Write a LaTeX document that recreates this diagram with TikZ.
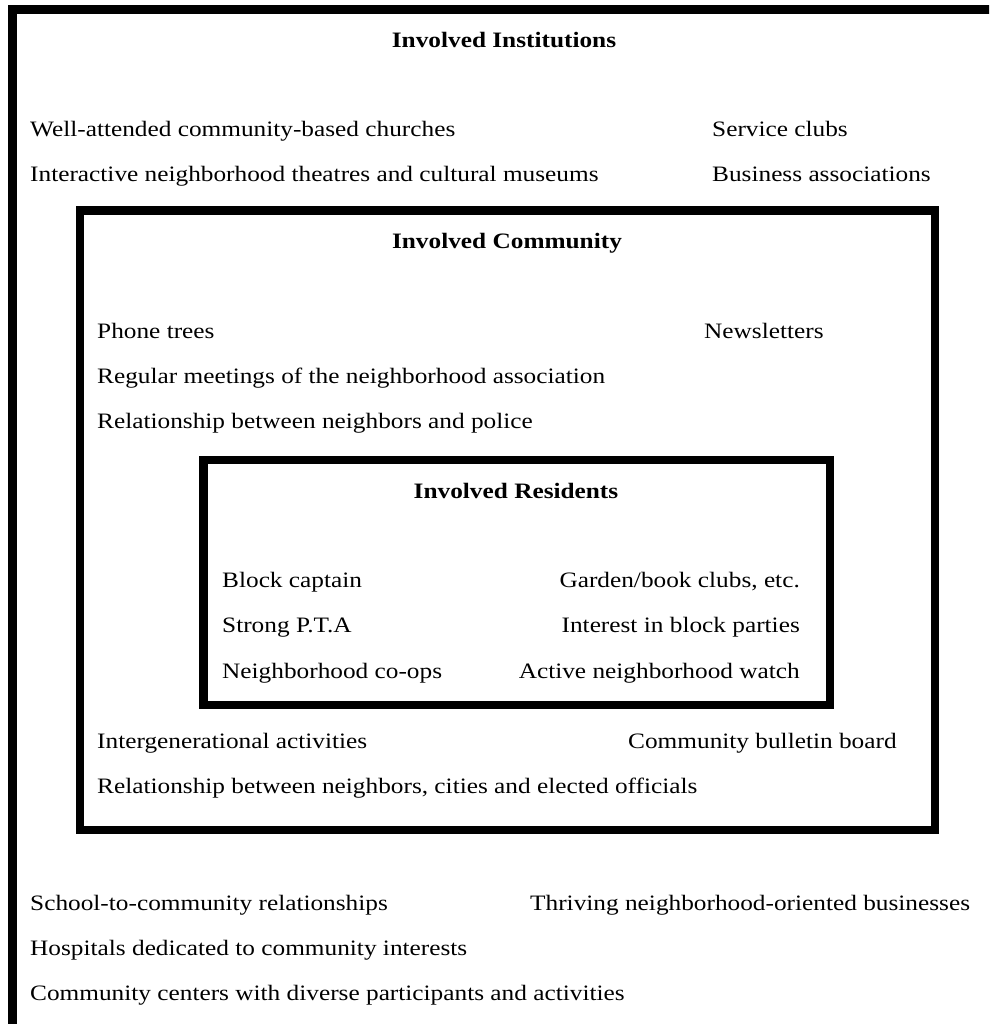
\documentclass[tikz,border=0pt]{standalone}
\usepackage{fontspec}
\setmainfont{Liberation Serif}[FakeStretch=1.15]
\begin{document}
\begin{tikzpicture}[x=1pt,y=-1pt,
  txt/.style={anchor=base west,inner sep=0pt,font=\fontsize{22}{26}\selectfont},
  txtr/.style={anchor=base east,inner sep=0pt,font=\fontsize{22}{26}\selectfont},
  ttl/.style={anchor=base,inner sep=0pt,font=\fontsize{22}{26}\selectfont\bfseries},
  boxline/.style={draw=black,line width=8.5pt}]
\useasboundingbox (0,0) rectangle (989,1024);
\clip (0,0) rectangle (989,1024);
\fill[white] (0,0) rectangle (989,1024);
% boxes
\draw[boxline,line width=9pt] (12.5,9.5) rectangle (1000,1035);
\draw[boxline] (80,210.5) rectangle (935,830);
\draw[boxline] (203.5,460) rectangle (830,705);
% outer texts
\node[ttl] (t1) at (504,48) {Involved Institutions};
\node[txt] (a1) at (30,137) {Well-attended community-based churches};
\node[txt] (a2) at (30,182) {Interactive neighborhood theatres and cultural museums};
\node[txt] (a3) at (712,137) {Service clubs};
\node[txt] (a4) at (712,182) {Business associations};
% middle texts
\node[ttl] (t2) at (507,248) {Involved Community};
\node[txt] (b1) at (97,338) {Phone trees};
\node[txt] (b2) at (704,338) {Newsletters};
\node[txt] (b3) at (97,383) {Regular meetings of the neighborhood association};
\node[txt] (b4) at (97,428) {Relationship between neighbors and police};
% inner texts
\node[ttl] (t3) at (516,498) {Involved Residents};
\node[txt] (c1) at (222,587) {Block captain};
\node[txt] (c2) at (222,632) {Strong P.T.A};
\node[txt] (c3) at (222,678) {Neighborhood co-ops};
\node[txtr] (c4) at (800,587) {Garden/book clubs, etc.};
\node[txtr] (c5) at (800,632) {Interest in block parties};
\node[txtr] (c6) at (800,678) {Active neighborhood watch};
% middle lower
\node[txt] (d1) at (97,748) {Intergenerational activities};
\node[txt] (d2) at (628,748) {Community bulletin board};
\node[txt] (d3) at (97,793) {Relationship between neighbors, cities and elected officials};
% bottom
\node[txt] (e1) at (30,910) {School-to-community relationships};
\node[txt] (e2) at (530,910) {Thriving neighborhood-oriented businesses};
\node[txt] (e3) at (30,955) {Hospitals dedicated to community interests};
\node[txt] (e4) at (30,1000) {Community centers with diverse participants and activities};
\end{tikzpicture}
\end{document}
